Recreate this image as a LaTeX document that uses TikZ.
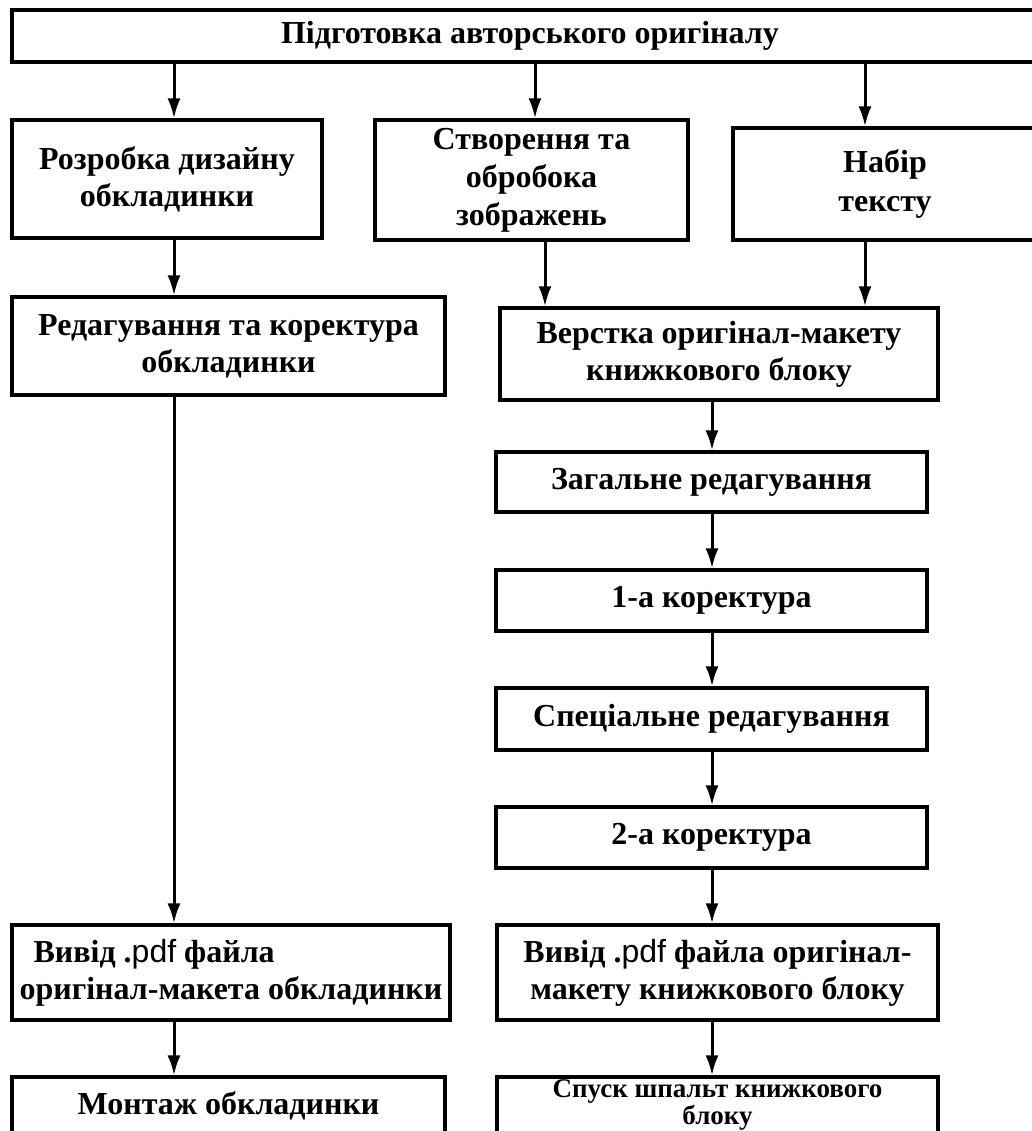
\documentclass[tikz,border=0pt]{standalone}
\usepackage{fontspec}
\setmainfont{Liberation Serif}
\setsansfont{Liberation Sans}
\usetikzlibrary{arrows.meta}

\begin{document}
\begin{tikzpicture}[x=0.5pt, y=-0.5pt,
    every node/.style={font=\bfseries\fontsize{16}{18.5}\selectfont},
    box/.style={draw, line width=1.6pt, rectangle, inner sep=0pt, align=center},
    arr/.style={line width=1.5pt, -{Latex[length=10pt, width=6.5pt]}}]
    \useasboundingbox (0,0) rectangle (1032,1131);
    \clip (0,0) rectangle (1032,1131);

    % Columns of the arrows
    \coordinate (lcol) at (174,0);
    \coordinate (mcol) at (535,0);
    \coordinate (icol) at (545,0);
    \coordinate (rcol) at (865,0);
    \coordinate (ccol) at (712,0);

    % Top
    \node[box, minimum width=518pt, minimum height=26pt] (author) at (530,36) {Підготовка авторського оригіналу};

    % Second row
    \node[box, minimum width=155pt, minimum height=59pt] (design) at (167,179) {Розробка дизайну\\обкладинки};
    \node[box, minimum width=156.5pt, minimum height=60pt] (images) at (531.5,180) {Створення та\\[0.5pt]обробока\\[0.5pt]зображень};
    \node[box, minimum width=152pt, minimum height=56pt] (typeset) at (885,184) {Набір\\[1pt]тексту};

    % Third row
    \node[box, minimum width=216.5pt, minimum height=49pt] (coveredit) at (228.5,346) {Редагування та коректура\\обкладинки};
    \node[box, minimum width=219pt, minimum height=46pt] (layout) at (719,354) {Верстка оригінал-макету\\книжкового блоку};

    % Editing chain
    \node[box, minimum width=215.5pt, minimum height=30pt] (general) at (711.5,482) {Загальне редагування};
    \node[box, minimum width=215.5pt, minimum height=30.5pt] (proof1) at (711.5,600.5) {1-а коректура};
    \node[box, minimum width=215.5pt, minimum height=31pt] (special) at (711.5,719) {Спеціальне редагування};
    \node[box, minimum width=215.5pt, minimum height=30.5pt] (proof2) at (711.5,837.5) {2-а коректура};

    % Output
    \node[box, align=left, minimum width=219pt, minimum height=47.5pt] (coverpdf) at (231,972.5) {\hspace*{7pt}Вивід .{\sffamily\mdseries pdf} файла\\оригінал-макета обкладинки};
    \node[box, minimum width=220.5pt, minimum height=47.5pt] (bookpdf) at (717.5,972.5) {Вивід .{\sffamily\mdseries pdf} файла оригінал-\\макету книжкового блоку};

    % Bottom
    \node[box, minimum width=216.5pt, minimum height=29pt] (montage) at (228.5,1106) {Монтаж обкладинки};
    \node[box, minimum width=220.5pt, minimum height=29pt] (imposition) at (717.5,1106) {};
    \node[align=center, inner sep=0pt, font=\bfseries\fontsize{13.5}{11.5}\selectfont] (impositiontext) at (717.5,1105) {Спуск шпальт книжкового\\блоку};

    % Arrows
    \draw[arr] (author.south -| lcol) -- (design.north -| lcol);
    \draw[arr] (author.south -| mcol) -- (images.north -| mcol);
    \draw[arr] (author.south -| rcol) -- (typeset.north -| rcol);
    \draw[arr] (design.south -| lcol) -- (coveredit.north -| lcol);
    \draw[arr] (images.south -| icol) -- (layout.north -| icol);
    \draw[arr] (typeset.south -| rcol) -- (layout.north -| rcol);
    \draw[arr] (coveredit.south -| lcol) -- (coverpdf.north -| lcol);
    \draw[arr] (coverpdf.south -| lcol) -- (montage.north -| lcol);
    \draw[arr] (layout.south -| ccol) -- (general.north -| ccol);
    \draw[arr] (general.south -| ccol) -- (proof1.north -| ccol);
    \draw[arr] (proof1.south -| ccol) -- (special.north -| ccol);
    \draw[arr] (special.south -| ccol) -- (proof2.north -| ccol);
    \draw[arr] (proof2.south -| ccol) -- (bookpdf.north -| ccol);
    \draw[arr] (bookpdf.south -| ccol) -- (imposition.north -| ccol);
\end{tikzpicture}
\end{document}
